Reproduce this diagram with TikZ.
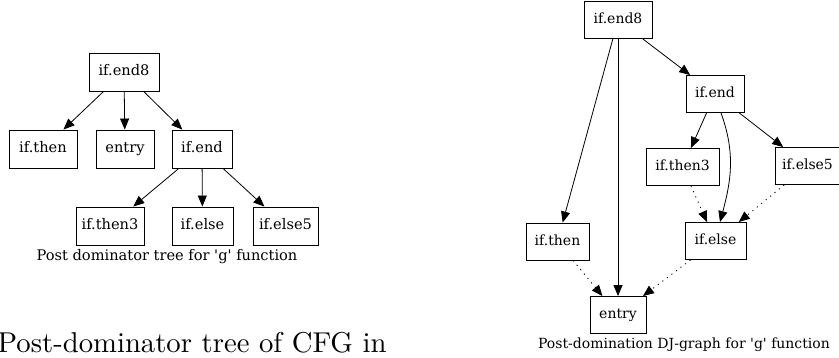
\documentclass[tikz,border=0pt]{standalone}
\usepackage{fontspec}
\newfontfamily\dvs{DejaVu Serif}
\newfontfamily\lmten[Extension=.otf]{lmroman10-regular}
\usetikzlibrary{arrows.meta}
\begin{document}
\begin{tikzpicture}[x=1pt,y=-1pt,
  box/.style={draw, line width=0.9pt, inner sep=0pt, minimum height=38pt, text height=11pt, text depth=3.6pt, font=\dvs\fontsize{14.6}{17}\selectfont},
  rbox/.style={box, minimum height=37pt, text height=10.6pt, text depth=3.4pt, font=\dvs\fontsize{14}{17}\selectfont},
  arr/.style={line width=0.8pt, -{Triangle[length=11pt,width=9pt]}},
  dotarr/.style={arr, dash pattern=on 1.2pt off 4.5pt},
  lcaption/.style={font=\dvs\fontsize{14.6}{17}\selectfont, inner sep=0pt},
  rcaption/.style={font=\dvs\fontsize{14}{17}\selectfont, inner sep=0pt}]
\useasboundingbox (0,0) rectangle (839,358);
% left tree
\node[box, minimum width=70pt] (lend8) at (124,72) {if.end8};
\node[box, minimum width=68pt] (lthen) at (43,149) {if.then};
\node[box, minimum width=58pt] (lentry) at (125,149) {entry};
\node[box, minimum width=60pt] (lend) at (202,149) {if.end};
\node[box, minimum width=68pt] (lthen3) at (110,226) {if.then3};
\node[box, minimum width=61pt] (lelse) at (202.5,226) {if.else};
\node[box, minimum width=65pt] (lelse5) at (285.5,226) {if.else5};
\node[lcaption] (lcap) at (167,257) {Post dominator tree for 'g' function};
\draw[arr] (lend8) -- (lthen);
\draw[arr] (lend8) -- (lentry);
\draw[arr] (lend8) -- (lend);
\draw[arr] (lend) -- (lthen3);
\draw[arr] (lend) -- (lelse);
\draw[arr] (lend) -- (lelse5);
% big text
\node[anchor=base west, inner sep=0pt, font=\lmten\fontsize{28.7}{34}\selectfont] (bigtxt) at (-2.5,353) {Post-dominator tree of CFG in};
% right graph
\node[rbox, minimum width=68pt] (rend8) at (618,20) {if.end8};
\node[rbox, minimum width=58pt] (rend) at (715,94) {if.end};
\node[rbox, minimum width=73pt] (rthen3) at (682.5,167) {if.then3};
\node[rbox, minimum width=65pt] (relse5) at (807.5,166) {if.else5};
\node[rbox, minimum width=63pt] (rthen) at (557.5,241.5) {if.then};
\node[rbox, minimum width=61pt] (relse) at (715.5,241) {if.else};
\node[rbox, minimum width=56pt] (rentry) at (618,315) {entry};
\node[rcaption] (rcap) at (684,345) {Post-domination DJ-graph for 'g' function};
\draw[arr] (rend8) -- (rthen);
\draw[arr] (rend8) -- (rentry);
\draw[arr] (rend8) -- (rend);
\draw[arr] (rend) -- (rthen3);
\draw[arr] ([xshift=6pt]rend.south) to[out=-70,in=75] ([xshift=4.5pt]relse.north);
\draw[arr] (rend) -- (relse5);
\draw[dotarr] (rthen3) -- (relse);
\draw[dotarr] (relse5) -- (relse);
\draw[dotarr] (rthen) -- (rentry);
\draw[dotarr] (relse) -- (rentry);
\end{tikzpicture}
\end{document}
